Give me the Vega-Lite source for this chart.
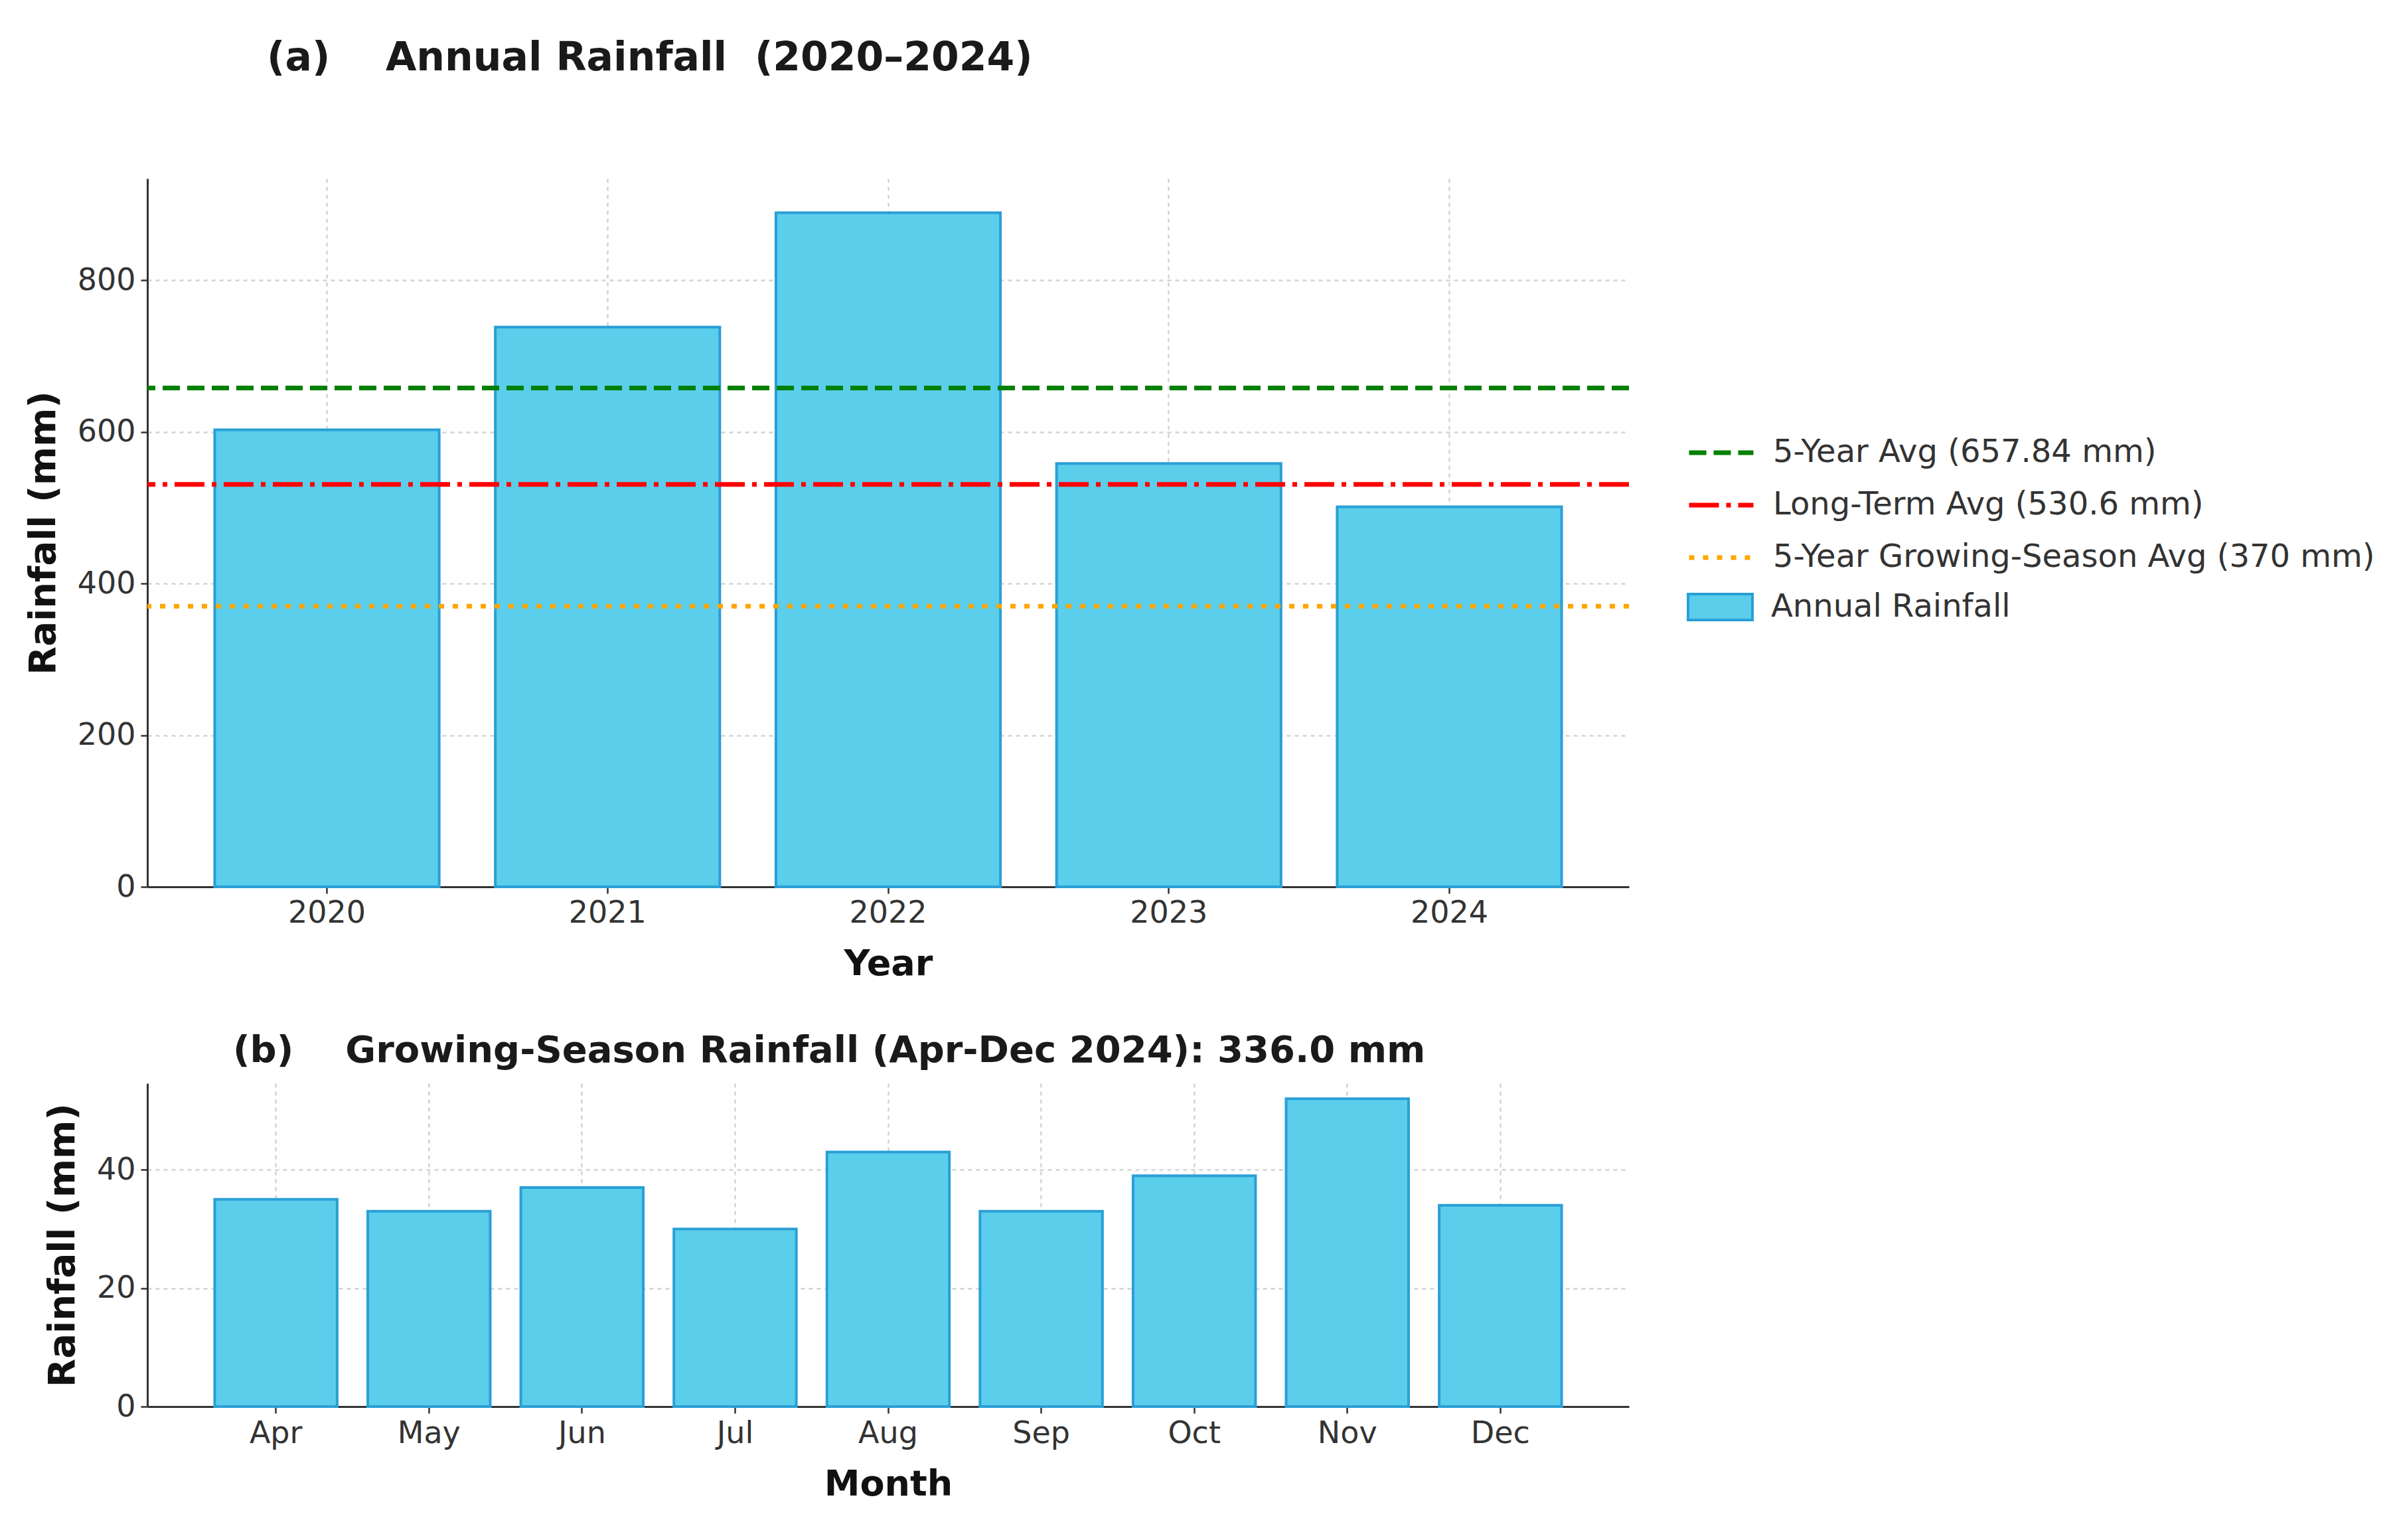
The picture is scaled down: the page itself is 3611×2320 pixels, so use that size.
{
  "$schema": "https://vega.github.io/schema/vega-lite/v6.json",
  "background": "white",
  "padding": {"left": 37, "top": 58, "right": 5, "bottom": 5},
  "spacing": 76,
  "config": {
    "font": "DejaVu Sans",
    "view": {"stroke": null},
    "axis": {
      "labelFontSize": 46,
      "labelColor": "#333333",
      "titleFontSize": 54,
      "titleFontWeight": "bold",
      "titleColor": "#111111",
      "domainColor": "#333333",
      "domainWidth": 3,
      "tickColor": "#333333",
      "tickWidth": 2.5,
      "tickSize": 10,
      "gridColor": "#d3d3d3",
      "gridDash": [6, 6],
      "gridWidth": 2.5
    },
    "legend": {
      "labelFontSize": 48,
      "labelColor": "#333333",
      "labelLimit": 0,
      "padding": 0
    }
  },
  "datasets": {
    "annual": [
      {"Year": "2020", "Rainfall": 602.6},
      {"Year": "2021", "Rainfall": 738.2},
      {"Year": "2022", "Rainfall": 889.0},
      {"Year": "2023", "Rainfall": 558.3},
      {"Year": "2024", "Rainfall": 501.1}
    ],
    "averages": [
      {"series": "5-Year Avg (657.84 mm)", "value": 657.84},
      {"series": "Long-Term Avg (530.6 mm)", "value": 530.6},
      {"series": "5-Year Growing-Season Avg (370 mm)", "value": 370}
    ],
    "monthly": [
      {"Month": "Apr", "Rainfall": 35},
      {"Month": "May", "Rainfall": 33},
      {"Month": "Jun", "Rainfall": 37},
      {"Month": "Jul", "Rainfall": 30},
      {"Month": "Aug", "Rainfall": 43},
      {"Month": "Sep", "Rainfall": 33},
      {"Month": "Oct", "Rainfall": 39},
      {"Month": "Nov", "Rainfall": 52},
      {"Month": "Dec", "Rainfall": 34}
    ]
  },
  "vconcat": [
    {
      "width": 2232,
      "height": 1067,
      "title": {
        "text": "(a)\u00a0\u00a0\u00a0 Annual Rainfall\u00a0 (2020–2024)",
        "anchor": "start",
        "frame": "group",
        "dx": 180,
        "offset": 150,
        "fontSize": 60,
        "fontWeight": "bold",
        "color": "#1a1a1a"
      },
      "layer": [
        {
          "data": {"name": "annual"},
          "mark": {"type": "bar", "stroke": "#2A9FD6", "strokeWidth": 4},
          "encoding": {
            "x": {
              "field": "Year",
              "type": "ordinal",
              "scale": {"paddingInner": 0.2, "paddingOuter": 0.24},
              "axis": {"title": "Year", "labelAngle": 0, "grid": true, "bandPosition": 0.5, "labelPadding": 7, "titlePadding": 27}
            },
            "y": {
              "field": "Rainfall",
              "type": "quantitative",
              "scale": {"domain": [0, 934], "nice": false},
              "axis": {"title": "Rainfall (mm)", "values": [0, 200, 400, 600, 800], "titleFontSize": 56, "titlePadding": 22, "labelPadding": 8}
            },
            "fill": {
              "datum": "Annual Rainfall",
              "type": "nominal",
              "scale": {"range": ["#5BCEEB"]},
              "legend": {
                "title": null,
                "orient": "none",
                "legendX": 2319,
                "legendY": 595,
                "symbolType": "M-1,-0.4H1V0.4H-1Z",
                "symbolSize": 9409,
                "symbolStrokeColor": "#2A9FD6",
                "symbolStrokeWidth": 4,
                "symbolFillColor": "#5BCEEB",
                "labelOffset": 26
              }
            }
          }
        },
        {
          "data": {"name": "averages"},
          "mark": {"type": "rule", "strokeWidth": 7},
          "encoding": {
            "y": {"field": "value", "type": "quantitative"},
            "color": {
              "field": "series",
              "type": "nominal",
              "sort": null,
              "scale": {
                "domain": ["5-Year Avg (657.84 mm)", "Long-Term Avg (530.6 mm)", "5-Year Growing-Season Avg (370 mm)"],
                "range": ["#008000", "#FF0000", "#FFA500"]
              },
              "legend": {
                "title": null,
                "orient": "none",
                "legendX": 2319,
                "legendY": 361,
                "symbolType": "stroke",
                "symbolSize": 9409,
                "symbolStrokeWidth": 7,
                "rowPadding": 3,
                "labelOffset": 26
              }
            },
            "strokeDash": {
              "field": "series",
              "type": "nominal",
              "sort": null,
              "scale": {
                "domain": ["5-Year Avg (657.84 mm)", "Long-Term Avg (530.6 mm)", "5-Year Growing-Season Avg (370 mm)"],
                "range": [[26, 11], [45, 11, 7, 11], [8, 13]]
              },
              "legend": {
                "title": null,
                "orient": "none",
                "legendX": 2319,
                "legendY": 361,
                "symbolType": "stroke",
                "symbolSize": 9409,
                "symbolStrokeWidth": 7,
                "rowPadding": 3,
                "labelOffset": 26
              }
            }
          }
        }
      ]
    },
    {
      "width": 2232,
      "height": 487,
      "title": {
        "text": "(b)\u00a0\u00a0\u00a0 Growing-Season Rainfall (Apr-Dec 2024): 336.0 mm",
        "anchor": "start",
        "frame": "group",
        "dx": 129,
        "offset": 20,
        "fontSize": 56,
        "fontWeight": "bold",
        "color": "#1a1a1a"
      },
      "data": {"name": "monthly"},
      "mark": {"type": "bar", "fill": "#5BCEEB", "stroke": "#2A9FD6", "strokeWidth": 4},
      "encoding": {
        "x": {
          "field": "Month",
          "type": "ordinal",
          "sort": null,
          "scale": {"paddingInner": 0.2, "paddingOuter": 0.44},
          "axis": {"title": "Month", "labelAngle": 0, "grid": true, "bandPosition": 0.5, "labelPadding": 8, "titlePadding": 27}
        },
        "y": {
          "field": "Rainfall",
          "type": "quantitative",
          "scale": {"domain": [0, 54.6], "nice": false},
          "axis": {"title": "Rainfall (mm)", "values": [0, 20, 40], "titleFontSize": 56, "titlePadding": 22, "labelPadding": 8}
        }
      }
    }
  ]
}
